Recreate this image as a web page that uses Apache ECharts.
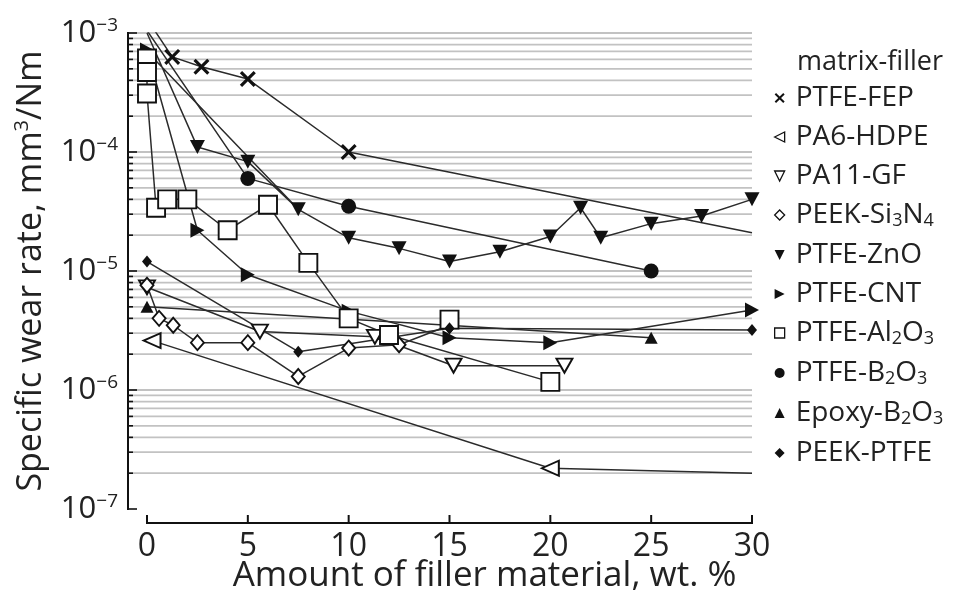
<!DOCTYPE html>
<html>
<head>
<meta charset="utf-8">
<script src="https://cdn.jsdelivr.net/npm/echarts@6/dist/echarts.min.js"></script>
<style>
html,body{margin:0;padding:0;background:#fff;}
#chart{width:959px;height:594px;}
</style>
</head>
<body>
<div id="chart"></div>
<script>
// ---- data (x: wt.%, y: specific wear rate, mm^3/Nm) ----
const seriesNames = ['PTFE-FEP','PA6-HDPE','PA11-GF','PEEK-Si3N4','PTFE-ZnO','PTFE-CNT','PTFE-Al2O3','PTFE-B2O3','Epoxy-B2O3','PEEK-PTFE'];
const ptfeFep = [[0.3,1.1e-3],[1.25,6.3e-4],[2.7,5.2e-4],[5,4.1e-4],[10,1.0e-4]];
const ptfeFepTail = [30,2.1e-5];
const pa6Hdpe = [[0.25,2.6e-6],[20,2.2e-7]];
const pa6HdpeTail = [30,2.0e-7];
const pa11Gf = [[0,7.3e-6],[5.6,3.1e-6],[11.3,2.8e-6],[15.2,1.6e-6],[20.7,1.6e-6]];
const peekSi3n4 = [[0,7.6e-6],[0.6,4.0e-6],[1.3,3.5e-6],[2.5,2.5e-6],[5,2.5e-6],[7.5,1.3e-6],[10,2.25e-6],[12.5,2.4e-6],[15,3.5e-6]];
const ptfeZnoStart = [0,1.0e-3];
const ptfeZno = [[2.5,1.1e-4],[5,8.3e-5],[7.5,3.3e-5],[10,1.9e-5],[12.5,1.55e-5],[15,1.2e-5],[17.5,1.45e-5],[20,1.95e-5],[21.5,3.4e-5],[22.5,1.9e-5],[25,2.5e-5],[27.5,2.9e-5],[30,4.0e-5]];
const ptfeZnoExtraLine = [[0,7.0e-4],[7.5,3.3e-5]];
const ptfeCnt = [[0,7.2e-4],[2.5,2.2e-5],[5,9.3e-6],[10,4.6e-6],[15,2.75e-6],[20,2.5e-6],[30,4.7e-6]];
const ptfeAl2o3 = [[0,6.1e-4],[0,4.7e-4],[0,3.1e-4],[0.45,3.4e-5],[1,4.0e-5],[2,4.0e-5],[4,2.2e-5],[6,3.6e-5],[8,1.17e-5],[10,4.0e-6],[12,2.9e-6],[20,1.17e-6]];
const ptfeAl2o3Single = [[15,3.9e-6]];
const ptfeB2o3 = [[0,1.05e-3],[5,6.0e-5],[10,3.5e-5],[25,1.0e-5]];
const epoxyB2o3 = [[0,5.0e-6],[25,2.75e-6]];
const peekPtfe = [[0,1.2e-5],[7.5,2.1e-6],[15,3.3e-6],[30,3.2e-6]];
const xTicks = [0,5,10,15,20,25,30];
const xTitle = 'Amount of filler material, wt. %';

// ---- styling ----
const FONT = 'Open Sans';
const INK = '#111';
const TXT = '#222';
const LINE = '#2b2b2b';
const X_MAX = 30;
const Y_MIN = 1e-7;
const Y_MAX = 1e-3;
const PX_PER_UNIT = (752 - 147) / 30;
const X_MIN = -(147 - 128) / PX_PER_UNIT;
const X_AXIS_DROP = 14;

const SYM = {
  cross: 'path://M0,1.4L1.4,0L5,3.6L8.6,0L10,1.4L6.4,5L10,8.6L8.6,10L5,6.4L1.4,10L0,8.6L3.6,5Z',
  triLeft: 'path://M0,5L10,0L10,10Z',
  triDown: 'path://M0,0L10,0L5,10Z',
  triRight: 'path://M0,0L10,5L0,10Z'
};

const styleDefs = {
  'PTFE-FEP':   {symbol: SYM.cross, size: 16, open: false, icon: SYM.cross},
  'PA6-HDPE':   {symbol: SYM.triLeft, size: [17,15], open: true, icon: SYM.triLeft},
  'PA11-GF':    {symbol: SYM.triDown, size: [16,14], open: true, icon: SYM.triDown},
  'PEEK-Si3N4': {symbol: 'diamond', size: [13,15], open: true, icon: 'diamond'},
  'PTFE-ZnO':   {symbol: SYM.triDown, size: [15,14], open: false, icon: SYM.triDown},
  'PTFE-CNT':   {symbol: SYM.triRight, size: [14,15], open: false, icon: SYM.triRight},
  'PTFE-Al2O3': {symbol: 'rect', size: 18, open: true, icon: 'rect'},
  'PTFE-B2O3':  {symbol: 'circle', size: 15, open: false, icon: 'circle'},
  'Epoxy-B2O3': {symbol: 'triangle', size: [13,12], open: false, icon: 'triangle'},
  'PEEK-PTFE':  {symbol: 'diamond', size: [10,12], open: false, icon: 'diamond'}
};

const GAP = ['-','-'];
function hidden(p){ return {value: p, symbol: 'none'}; }

const seriesData = {
  'PTFE-FEP': ptfeFep.concat([hidden(ptfeFepTail)]),
  'PA6-HDPE': pa6Hdpe.concat([hidden(pa6HdpeTail)]),
  'PA11-GF': pa11Gf,
  'PEEK-Si3N4': peekSi3n4,
  'PTFE-ZnO': [hidden(ptfeZnoStart)].concat(ptfeZno, [GAP], ptfeZnoExtraLine.map(hidden)),
  'PTFE-CNT': ptfeCnt,
  'PTFE-Al2O3': ptfeAl2o3.concat([GAP], ptfeAl2o3Single),
  'PTFE-B2O3': ptfeB2o3,
  'Epoxy-B2O3': epoxyB2o3,
  'PEEK-PTFE': peekPtfe
};

// gridline values (1..9 x 10^n) and the top decade
const gridVals = [];
for (let e = -7; e <= -4; e++) {
  for (let k = 1; k <= 9; k++) {
    gridVals.push([k * Math.pow(10, e), k === 1 ? 1 : 0]);
  }
}
gridVals.push([Y_MAX, 1]);

const legendRich = {
  'PTFE-FEP': '{t|PTFE-FEP}',
  'PA6-HDPE': '{t|PA6-HDPE}',
  'PA11-GF': '{t|PA11-GF}',
  'PEEK-Si3N4': '{t|PEEK-Si}{s|3}{t|N}{s|4}',
  'PTFE-ZnO': '{t|PTFE-ZnO}',
  'PTFE-CNT': '{t|PTFE-CNT}',
  'PTFE-Al2O3': '{t|PTFE-Al}{s|2}{t|O}{s|3}',
  'PTFE-B2O3': '{t|PTFE-B}{s|2}{t|O}{s|3}',
  'Epoxy-B2O3': '{t|Epoxy-B}{s|2}{t|O}{s|3}',
  'PEEK-PTFE': '{t|PEEK-PTFE}'
};

const series = [];
// gridlines + y-axis ticks
series.push({
  type: 'custom',
  name: '_grid',
  xAxisIndex: 0, yAxisIndex: 0,
  silent: true,
  clip: false,
  z: 0,
  data: gridVals.map(g => [X_MIN, g[0], g[1]]),
  encode: {x: 0, y: 1},
  renderItem: function (params, api) {
    const v = api.value(1);
    const major = api.value(2) === 1;
    const a = api.coord([X_MIN, v]);
    const b = api.coord([X_MAX, v]);
    const children = [];
    if (v > 1.5e-7) {
      children.push({type: 'line', shape: {x1: a[0] + 1, y1: a[1], x2: b[0], y2: b[1]},
        style: {stroke: '#c2c2c2', lineWidth: 1.8}});
    }
    children.push({type: 'rect', shape: {x: a[0], y: a[1] - 0.8, width: (major ? 9 : 5), height: 1.6},
      style: {fill: INK}});
    return {type: 'group', children: children};
  }
});

seriesNames.forEach(function (name) {
  const d = styleDefs[name];
  series.push({
    type: 'line',
    name: name,
    xAxisIndex: 0, yAxisIndex: 0,
    data: seriesData[name],
    symbol: d.symbol,
    symbolSize: d.size,
    showAllSymbol: true,
    connectNulls: false,
    animation: false,
    z: 3,
    lineStyle: {color: LINE, width: 1.5},
    itemStyle: d.open ? {color: '#fff', borderColor: INK, borderWidth: 1.9}
                      : {color: INK, borderColor: INK, borderWidth: 0},
    emphasis: {disabled: true}
  });
});

const chart = echarts.init(document.getElementById('chart'), null, {renderer: 'canvas'});
chart.setOption({
  animation: false,
  backgroundColor: '#fff',
  textStyle: {fontFamily: FONT},
  title: {
    text: 'matrix-filler',
    left: 797, top: 49, padding: 0,
    textStyle: {fontFamily: FONT, fontSize: 27, fontWeight: 'normal', color: TXT}
  },
  legend: {
    orient: 'vertical',
    left: 774, top: 84, padding: 0,
    itemWidth: 10, itemHeight: 10,
    itemGap: 11,
    selectedMode: false,
    formatter: function (n) { return legendRich[n]; },
    textStyle: {
      fontFamily: FONT, color: TXT, padding: [0,0,0,6],
      rich: {
        t: {fontFamily: FONT, fontSize: 28, color: TXT, lineHeight: 30},
        s: {fontFamily: FONT, fontSize: 18, color: TXT, lineHeight: 16, verticalAlign: 'bottom'}
      }
    },
    data: seriesNames.map(function (n) {
      const d = styleDefs[n];
      return {
        name: n, icon: d.icon,
        itemStyle: d.open ? {color: '#fff', borderColor: INK, borderWidth: 1.3}
                          : {color: INK, borderColor: INK, borderWidth: 0}
      };
    })
  },
  grid: [
    {left: 128, right: 207, top: 33, bottom: 85, containLabel: false, outerBoundsMode: 'none'},
    {left: 147, right: 207, top: 33, bottom: 71, containLabel: false, outerBoundsMode: 'none'}
  ],
  xAxis: [
    {type: 'value', gridIndex: 0, min: X_MIN, max: X_MAX, show: false},
    {
      type: 'value', gridIndex: 1, min: 0, max: 30, interval: 5,
      axisLine: {show: false, onZero: false},
      axisTick: {show: false},
      splitLine: {show: false},
      axisLabel: {fontFamily: FONT, fontSize: 32, color: TXT, margin: 8,
        customValues: xTicks}
    }
  ],
  yAxis: [
    {
      type: 'log', gridIndex: 0, logBase: 10, min: Y_MIN, max: Y_MAX,
      axisLine: {show: false, onZero: false},
      axisTick: {show: false},
      splitLine: {show: false},
      minorTick: {show: false},
      axisLabel: {
        margin: 10,
        formatter: function (v) {
          const e = Math.round(Math.log10(v));
          return '{b|10}{e|\u2212' + (-e) + '}';
        },
        rich: {
          b: {fontFamily: FONT, fontSize: 31, color: TXT, lineHeight: 34},
          e: {fontFamily: FONT, fontSize: 19, color: TXT, lineHeight: 16, verticalAlign: 'top'}
        }
      },
      name: '{a|Specific wear rate, mm}{s|3}{a|/Nm}',
      nameLocation: 'middle', nameGap: 78,
      nameTextStyle: {
        rich: {
          a: {fontFamily: FONT, fontSize: 34, color: TXT, lineHeight: 38},
          s: {fontFamily: FONT, fontSize: 20, color: TXT, lineHeight: 18, verticalAlign: 'top'}
        }
      }
    },
    {type: 'value', gridIndex: 1, show: false, min: 0, max: 1}
  ],
  series: series
});

// axis lines (filled bars), inward x ticks and x title, placed through the chart's own scales
(function () {
  const finder = {xAxisIndex: 0, yAxisIndex: 0};
  const start = chart.convertToPixel(finder, [xTicks[0], Y_MIN]);
  const end = chart.convertToPixel(finder, [xTicks[xTicks.length - 1], Y_MIN]);
  const yTop = chart.convertToPixel(finder, [X_MIN, Y_MAX]);
  const yBot = chart.convertToPixel(finder, [X_MIN, Y_MIN]);
  const y = start[1] + X_AXIS_DROP;
  const g = [];
  // y axis line
  g.push({type: 'rect', z: 50, silent: true,
    shape: {x: yTop[0] - 1, y: yTop[1] - 1, width: 2, height: yBot[1] - yTop[1] + 2},
    style: {fill: INK}});
  // x axis line
  g.push({type: 'rect', z: 50, silent: true,
    shape: {x: start[0] - 1, y: y - 1, width: end[0] - start[0] + 2, height: 2},
    style: {fill: INK}});
  xTicks.forEach(function (t) {
    const p = chart.convertToPixel(finder, [t, Y_MIN]);
    g.push({type: 'rect', z: 50, silent: true,
      shape: {x: p[0] - 1, y: y - 8, width: 2, height: 8},
      style: {fill: INK}});
  });
  g.push({
    type: 'text', z: 50, silent: true,
    x: (start[0] + end[0]) / 2 + 35, y: y + 53,
    style: {text: xTitle, fill: TXT, font: '35px "Open Sans"', align: 'center', verticalAlign: 'middle'}
  });
  chart.setOption({graphic: g});
})();
</script>
</body>
</html>
